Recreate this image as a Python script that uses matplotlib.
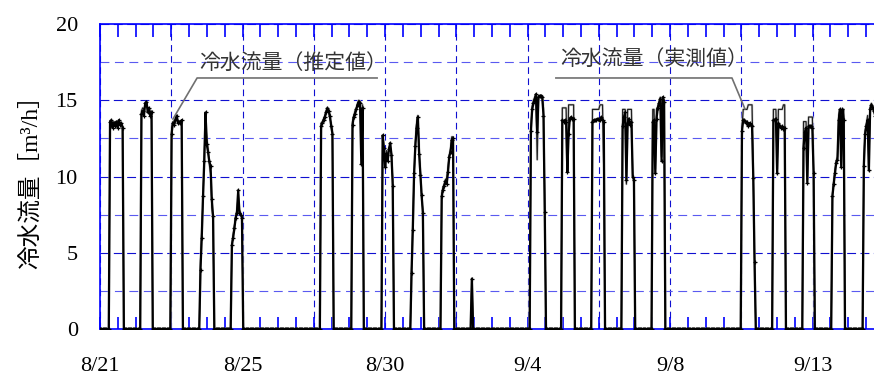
import matplotlib
matplotlib.use('Agg')
import matplotlib.pyplot as plt
from matplotlib.ticker import MultipleLocator, FuncFormatter
import numpy as np


## Data: hourly chilled-water flow, day index counted from 8/21 0:00.
N_DAYS = 26

op_day = [0, 1, 2, 3, 4, 7, 8, 9, 10, 11, 12, 14, 15, 16, 17, 18, 21, 22, 23, 24, 25]

# first hour with flow on each operating day
est_start = [8, 9, 9, 8, 9, 8, 9, 9, 8, 8, 8, 7, 8, 8, 8, 8, 7, 8, 8, 7, 8]
est_vals = [
  [13.6, 13.7, 13.2, 13.5, 13.3, 13.6, 13.2, 13.7, 13.4, 13.5, 13.2],
  [14.1, 14.3, 14.0, 14.8, 14.9, 14.2, 14.5, 14.0, 14.2],
  [12.8, 13.5, 13.4, 13.7, 14.0, 13.5, 13.6, 13.5, 13.7],
  [3.9, 6.0, 8.7, 11.0, 14.2, 12.1, 11.6, 11.0, 10.7, 8.5, 7.4],
  [5.5, 6.0, 6.6, 7.3, 7.6, 9.1, 7.6, 7.5, 7.3],
  [13.3, 13.5, 13.7, 13.9, 14.2, 14.5, 14.3, 14.0, 13.3, 12.8],
  [13.4, 13.9, 14.1, 14.4, 14.7, 14.9, 14.8, 10.8, 14.5],
  [12.7, 11.9, 10.6, 11.5, 11.0, 11.8, 12.2, 11.4, 9.4],
  [3.7, 6.5, 10.2, 12.0, 13.2, 13.9, 11.5, 10.1, 8.8, 7.6],
  [8.7, 9.1, 9.4, 9.7, 9.5, 10.3, 11.3, 11.6, 12.4, 12.5],
  [3.3],
  [13.0, 14.4, 14.8, 15.0, 15.4, 12.9, 15.2, 15.3, 15.3, 15.2, 14.0, 7.7],
  [13.7, 13.6, 13.7, 13.6, 10.3, 12.8, 13.8, 13.9, 13.8, 13.8],
  [13.6, 13.7, 13.7, 13.7, 13.8, 13.7, 13.7, 13.9, 13.7, 13.6],
  [13.3, 13.9, 14.2, 9.8, 13.5, 13.8, 13.4, 13.6, 10.0, 9.8],
  [13.6, 13.7, 10.2, 13.8, 14.5, 14.8, 15.1, 11.0, 15.2, 14.9],
  [13.0, 13.7, 13.7, 13.5, 13.6, 13.3, 13.5, 13.4, 13.3, 9.9, 4.4],
  [13.7, 13.7, 13.8, 10.2, 13.5, 13.3, 13.2, 13.3, 13.1, 13.2],
  [11.9, 12.9, 13.2, 9.6, 13.3, 13.3, 13.3, 13.2, 10.2],
  [8.7, 9.5, 10.2, 10.9, 11.1, 13.7, 14.4, 10.6, 14.4, 13.7],
  [10.7, 12.8, 13.3, 13.7, 10.4, 14.4, 14.7, 14.5, 14.3, 14.0],
]

meas_start = est_start
meas_vals = [
  [13.4, 13.6, 13.5, 13.6, 13.4, 13.5, 13.3, 13.6, 13.5, 13.4, 13.3],
  [14.3, 14.5, 14.4, 14.7, 14.8, 14.5, 14.4, 14.2, 14.3],
  [13.2, 13.6, 13.5, 13.8, 13.9, 13.7, 13.6, 13.6, 13.6],
  [4.5, 6.5, 8.5, 11.5, 13.8, 12.5, 11.8, 10.8, 10.2, 8.0, 7.2],
  [5.6, 6.2, 6.8, 7.4, 7.8, 8.8, 7.8, 7.6, 7.4],
  [13.5, 13.6, 13.8, 14.0, 14.3, 14.4, 14.2, 13.8, 13.5, 13.0],
  [13.6, 14.0, 14.3, 14.5, 14.8, 15.0, 14.9, 11.5, 14.7],
  [12.5, 11.7, 11.0, 11.7, 11.3, 11.9, 12.0, 11.5, 9.8],
  [4.0, 7.2, 10.0, 12.2, 13.5, 14.0, 11.8, 10.4, 8.6, 7.8],
  [8.9, 9.3, 9.5, 9.8, 9.9, 10.6, 11.4, 11.8, 12.6, 12.6],
  [3.3],
  [13.2, 14.6, 15.0, 15.2, 15.3, 11.1, 15.3, 15.3, 15.3, 15.3, 14.5, 8.5],
  [14.5, 14.5, 14.5, 14.5, 10.5, 14.7, 14.7, 14.7, 14.7, 14.7],
  [14.4, 14.4, 14.4, 14.4, 14.4, 14.4, 14.7, 14.7, 14.7, 10.2],
  [14.4, 14.4, 14.4, 9.5, 14.4, 14.4, 14.4, 14.4, 10.2, 9.6],
  [14.4, 14.4, 10.5, 14.4, 14.6, 14.9, 15.2, 11.3, 15.2, 15.0],
  [13.2, 14.4, 14.4, 14.4, 14.4, 14.7, 14.7, 14.7, 14.7, 10.0, 4.6],
  [14.4, 14.4, 14.4, 10.5, 14.4, 14.4, 14.4, 14.4, 14.7, 14.7],
  [13.6, 13.6, 13.6, 9.8, 13.9, 13.9, 13.9, 13.9, 10.4],
  [8.9, 9.7, 10.4, 11.0, 11.3, 14.0, 14.4, 10.8, 14.4, 14.4],
  [11.0, 13.0, 13.5, 14.0, 10.6, 14.5, 14.8, 14.6, 14.4, 14.2],
]

x_labels = ['8/21', '8/25', '8/30', '9/4', '9/8', '9/13']

GRID_STEP = 2.3635   # days between vertical grid lines
X_MAX = 25.67
BLUE = '#0000ff'
GRID_DARK = '#1010d0'
GRID_LIGHT = '#5a5af0'

CJK = ['Noto Sans CJK JP', 'DejaVu Sans']
SERIF = ['Liberation Serif', 'Noto Sans CJK JP']


def hourly(days, starts, vals):
  y = np.zeros(N_DAYS * 24)
  for d, s, v in zip(days, starts, vals):
    i = d * 24 + s
    y[i:i + len(v)] = v
  return y


x = np.arange(N_DAYS * 24) / 24.0
est = hourly(op_day, est_start, est_vals)
meas = hourly(op_day, meas_start, meas_vals)

fig = plt.figure(figsize=(8.74, 3.76), dpi=100)
ax = fig.add_axes([100 / 874, 47 / 376, 774 / 874, 305 / 376])

## grid
ax.set_axisbelow(True)
ax.yaxis.set_major_locator(MultipleLocator(5))
ax.yaxis.set_minor_locator(MultipleLocator(2.5))
ax.grid(which='major', axis='y', color=GRID_DARK, linestyle=(0, (8, 4)), linewidth=0.8)
ax.grid(which='minor', axis='y', color=GRID_LIGHT, linestyle=(0, (8, 5)), linewidth=0.8)
ax.grid(which='major', axis='x', color=GRID_DARK, linestyle=(0, (6, 4)), linewidth=0.8)

## series
ax.plot(x, meas, color='#d4d4d4', linewidth=1.8, zorder=2)
ax.plot(x, meas, color='#202020', linewidth=0.9, zorder=3)
ax.plot(x, est, color='black', linewidth=1.6, marker='+', markersize=3.5,
        markeredgewidth=0.9, zorder=4)

ax.set_xlim(0, X_MAX)
ax.set_ylim(0, 20)

## x ticks: inner ticks top and bottom
ax.xaxis.set_major_locator(MultipleLocator(GRID_STEP))
ax.xaxis.set_minor_locator(MultipleLocator(GRID_STEP / 4))


def fmt(v, pos):
  k = int(round(v / GRID_STEP))
  if k % 2 == 0 and k // 2 < len(x_labels):
    return x_labels[k // 2]
  return ''


ax.xaxis.set_major_formatter(FuncFormatter(fmt))
ax.tick_params(axis='x', which='both', direction='in', top=True, bottom=True,
               length=9, width=1.2, color=BLUE, pad=20)
ax.tick_params(axis='y', which='both', length=0, pad=16)
for lab in ax.get_xticklabels() + ax.get_yticklabels():
  lab.set_family(SERIF)
  lab.set_fontsize(16)

for side in ['left', 'bottom', 'top']:
  ax.spines[side].set_color(BLUE)
  ax.spines[side].set_linewidth(1.2)
ax.spines['right'].set_visible(False)

ax.set_ylabel('冷水流量［m³/h］', family=SERIF, fontsize=17, labelpad=10)

## callouts
ax.plot([2.42, 3.22, 9.19], [13.77, 16.46, 16.46], color='#707070', linewidth=1.2,
        zorder=5, clip_on=False)
ax.text(3.30, 17.45, '冷水流量（推定値）', family=CJK, fontsize=15, color='#333333',
        ha='left', va='center')
ax.plot([15.12, 20.96, 21.39], [16.46, 16.46, 14.43], color='#707070', linewidth=1.2,
        zorder=5, clip_on=False)
ax.text(15.26, 17.7, '冷水流量（実測値）', family=CJK, fontsize=15, color='#333333',
        ha='left', va='center')

fig.savefig('out.png', dpi=100)
